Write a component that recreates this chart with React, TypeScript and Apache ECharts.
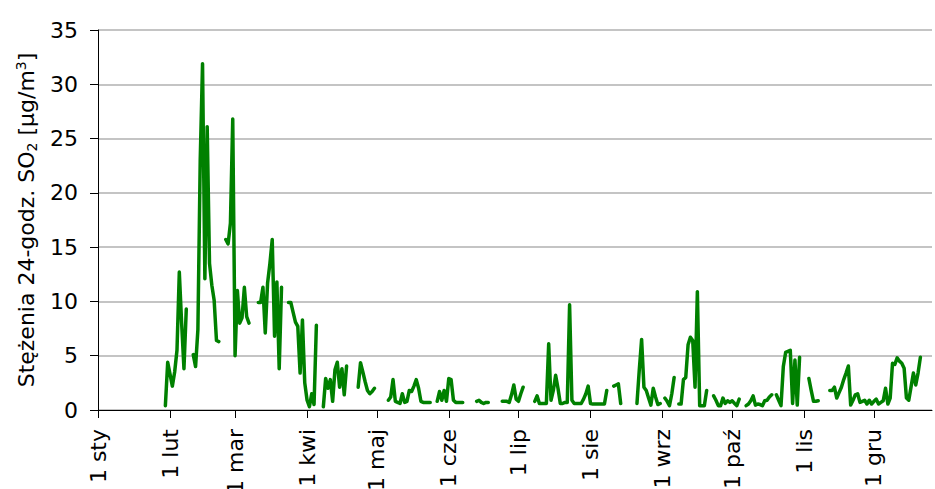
import React, { useEffect, useRef } from "react";
import * as echarts from "echarts";

const n = null;

// Daily 24-h SO2 concentrations [µg/m3], one value per day; null = no measurement
const jan = [
  n, n, n, n, n, n, n, n, n, n, n, n, n, n, n, n, n, n, n, n,
  n, n, n, n, n, n, n, n, n, 0.4, 4.4,
];
const feb = [
  3.3, 2.2, 3.5, 5.5, 12.7, 8.0, 3.8, 9.3, n, n,
  5.1, 4.0, 7.4, 23.0, 31.9, 12.1, 26.1, 13.5, 11.5, 10.1,
  6.4, 6.3, n, n, 15.7, 15.3, 17.2, 26.8,
];
const mar = [
  5.0, 11.0, 8.0, 8.5, 11.3, 8.6, 8.0, n, n, n,
  9.9, 9.9, 11.3, 7.1, 11.7, 13.5, 15.7, 6.8, 11.8, 3.8,
  11.3, n, n, 9.9, 9.9, 9.0, 8.1, 7.7, 3.4, 8.3,
  2.5,
];
const apr = [
  0.9, 0.3, 1.5, 0.5, 7.8, n, n, 0.3, 2.9, 2.0,
  2.8, 0.8, 3.7, 4.4, 2.1, 3.8, 1.4, 4.05, n, n,
  n, n, 2.1, 4.35, 3.5, 2.6, 1.8, 1.5, 1.7, 2.0,
];
const may = [
  n, n, n, n, n, 0.9, 1.2, 2.8, 0.8, 0.7,
  0.6, 1.5, 0.7, 0.8, 1.8, 1.7, 2.2, 2.8, 2.0, 0.8,
  0.7, 0.7, 0.7, 0.7, n, n, 0.8, 1.7, 0.9, 1.8,
  0.8,
];
const jun = [
  2.9, 2.8, 0.9, 0.7, 0.7, 0.7, 0.7, n, n, n,
  n, n, 0.8, 0.9, 0.7, 0.6, 0.7, 0.7, n, n,
  n, n, n, 0.8, 0.8, 0.8, 0.7, 1.4, 2.3, 1.0,
];
const jul = [
  0.8, 1.5, 2.1, n, n, n, n, 0.8, 1.3, 0.6,
  0.6, 0.6, 0.6, 6.1, 0.9, 1.8, 3.2, 2.0, 0.6, 0.6,
  0.7, 0.7, 9.7, 0.9, 0.6, 0.6, 0.6, 0.6, 1.0, 1.5,
  2.2,
];
const aug = [
  0.6, 0.55, 0.55, 0.55, 0.55, 0.55, 0.55, 1.8, n, n,
  2.2, 2.3, 2.4, 0.6, n, n, n, n, n, n,
  0.6, 3.7, 6.5, 2.1, 1.8, 1.1, 0.45, 2.0, 1.2, 0.5,
  0.6,
];
const sep = [
  n, 1.1, 0.8, 0.4, 1.5, 3.0, n, 0.55, 0.55, 2.8,
  3.0, 6.0, 6.7, 6.4, 2.1, 10.9, 0.4, 0.4, 0.4, 1.8,
  n, n, 1.3, 0.9, 0.4, 0.4, 1.1, 0.6, 0.85, 0.7,
];
const oct = [
  0.85, 0.6, 0.4, 1.0, n, n, 0.4, 0.55, 0.85, 1.3,
  0.45, 0.55, 0.5, 0.4, 0.85, 0.9, 1.2, 1.4, n, 1.4,
  0.9, 0.4, 4.0, 5.3, 5.4, 5.5, 0.6, 4.6, 0.45, 4.85,
  n,
];
const nov = [
  n, n, 2.9, 1.8, 0.8, 0.8, 0.85, n, n, n,
  n, 1.8, 1.8, 2.1, 1.1, 1.6, 2.1, 2.8, 3.4, 4.05,
  0.45, 0.9, 1.4, 1.5, 0.7, 0.8, 0.9, 0.55, 0.9, 0.55,
];
const dec = [
  0.8, 1.0, 0.55, 0.7, 0.85, 2.0, 0.55, 1.1, 4.3, 4.2,
  4.8, 4.5, 4.3, 3.85, 1.1, 0.9, 2.15, 3.4, 2.3, 3.4,
  4.85, n, n, n, n, n, n, n, n, n,
  n,
];

// Day-of-year index of the first day of each month, and their labels
const monthStarts = [0, 31, 59, 90, 120, 151, 181, 212, 243, 273, 304, 334];
const monthLabels = [
  "1 sty", "1 lut", "1 mar", "1 kwi", "1 maj", "1 cze",
  "1 lip", "1 sie", "1 wrz", "1 paź", "1 lis", "1 gru",
];

const yTicks = { min: 0, max: 35, interval: 5 };

const FONT = '"DejaVu Sans", "Liberation Sans", Arial, sans-serif';

export default function App() {
  const ref = useRef<HTMLDivElement>(null);

  useEffect(() => {
    if (!ref.current) return;
    const chart = echarts.init(ref.current, null, { renderer: "svg" });
    const daily = [
      ...jan, ...feb, ...mar, ...apr, ...may, ...jun,
      ...jul, ...aug, ...sep, ...oct, ...nov, ...dec,
    ];
    const data = daily.map((v, i) => [i, v == null ? "-" : v]);

    chart.setOption({
      animation: false,
      backgroundColor: "#ffffff",
      grid: {
        left: 98,
        right: 3,
        top: 30,
        bottom: 79,
        containLabel: false,
        outerBoundsMode: "none",
      },
      xAxis: {
        type: "value",
        min: 0,
        max: 359,
        axisLine: { show: true, lineStyle: { color: "#000", width: 1 } },
        axisTick: {
          show: true,
          length: 8,
          customValues: monthStarts,
          lineStyle: { color: "#000", width: 1 },
        },
        axisLabel: {
          show: true,
          customValues: monthStarts,
          rotate: 90,
          margin: 19,
          fontSize: 22,
          fontFamily: FONT,
          color: "#000",
          padding: [6, 0, 0, 0],
          formatter: (v: number) => {
            const k = monthStarts.indexOf(Math.round(v));
            return k >= 0 ? monthLabels[k] : "";
          },
        },
        splitLine: { show: false },
      },
      yAxis: {
        type: "value",
        min: yTicks.min,
        max: yTicks.max,
        interval: yTicks.interval,
        axisLine: { show: true, lineStyle: { color: "#000", width: 1 } },
        axisTick: { show: true, length: 8, lineStyle: { color: "#000", width: 1 } },
        axisLabel: {
          margin: 20,
          fontSize: 22,
          fontFamily: FONT,
          color: "#000",
        },
        splitLine: { show: true, lineStyle: { color: "#b0b0b0", width: 1.5 } },
        name: "{a|Stężenia 24-godz. SO}{sub|2}{a| [µg/m}{sup|3}{a|]}",
        nameLocation: "middle",
        nameGap: 55,
        nameTextStyle: {
          fontFamily: FONT,
          fontSize: 22,
          color: "#000",
          rich: {
            a: { fontFamily: FONT, fontSize: 22, color: "#000", lineHeight: 25 },
            sub: {
              fontFamily: FONT,
              fontSize: 14,
              color: "#000",
              lineHeight: 14,
              verticalAlign: "bottom",
            },
            sup: {
              fontFamily: FONT,
              fontSize: 14,
              color: "#000",
              lineHeight: 14,
              verticalAlign: "top",
            },
          },
        },
      },
      series: [
        {
          type: "line",
          data,
          showSymbol: false,
          symbol: "none",
          connectNulls: false,
          lineStyle: { color: "#008000", width: 3.5, join: "round", cap: "round" },
          itemStyle: { color: "#008000" },
        },
      ],
    });

    return () => {
      chart.dispose();
    };
  }, []);

  return (
    <div
      ref={ref}
      style={{ position: "fixed", left: 0, top: 0, width: 935, height: 489 }}
    />
  );
}
